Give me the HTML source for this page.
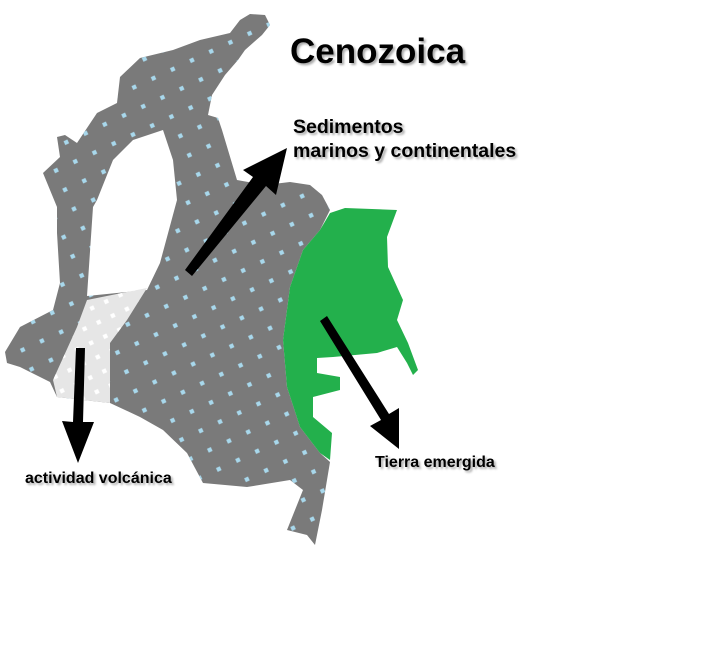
<!DOCTYPE html>
<html><head><meta charset="utf-8"><style>
html,body{margin:0;padding:0;background:#fff;}
body{width:702px;height:666px;overflow:hidden;position:relative;font-family:"Liberation Sans",Arial,sans-serif;}
.lbl{position:absolute;font-weight:bold;color:#000;white-space:nowrap;text-shadow:2px 2px 2px #aaa,-1px -1px 1px #fff;}
</style></head><body>
<svg width="702" height="666" viewBox="0 0 702 666" style="position:absolute;left:0;top:0">
<defs>
<pattern id="dots" width="30" height="30" patternUnits="userSpaceOnUse" patternTransform="rotate(20)">
<path d="M6 3 L9 6 L6 9 L3 6Z" fill="#a8d8ec"/><path d="M21 18 L24 21 L21 24 L18 21Z" fill="#a8d8ec"/>
</pattern>
<pattern id="wdots" width="22" height="22" patternUnits="userSpaceOnUse" patternTransform="rotate(20)">
<path d="M5 2 L8 5 L5 8 L2 5Z" fill="#fff"/><path d="M16 13 L19 16 L16 19 L13 16Z" fill="#fff"/>
</pattern>
</defs>
<g>
<path d="M250,14 L265,15 L270,25 L262,35 L245,50 L238,60 L225,75 L212,95 L208,115 L218,118 L222,130 L228,150 L237,180 L265,185 L290,182 L310,185 L322,195 L330,210 L320,230 L303,250 L290,287 L283,340 L287,387 L300,427 L320,453 L330,462 L327,480 L322,510 L315,545 L307,535 L287,530 L303,490 L290,480 L247,487 L203,483 L187,453 L163,430 L140,417 L110,403 L57,397 L50,382 L20,367 L7,363 L5,352 L20,327 L53,310 L60,283 L57,233 L57,207 L43,173 L60,157 L57,137 L65,135 L77,143 L97,113 L117,103 L120,77 L140,58 L173,50 L200,40 L230,33 L240,20 Z" fill="#7a7a7a"/>
<path d="M250,14 L265,15 L270,25 L262,35 L245,50 L238,60 L225,75 L212,95 L208,115 L218,118 L222,130 L228,150 L237,180 L265,185 L290,182 L310,185 L322,195 L330,210 L320,230 L303,250 L290,287 L283,340 L287,387 L300,427 L320,453 L330,462 L327,480 L322,510 L315,545 L307,535 L287,530 L303,490 L290,480 L247,487 L203,483 L187,453 L163,430 L140,417 L110,403 L57,397 L50,382 L20,367 L7,363 L5,352 L20,327 L53,310 L60,283 L57,233 L57,207 L43,173 L60,157 L57,137 L65,135 L77,143 L97,113 L117,103 L120,77 L140,58 L173,50 L200,40 L230,33 L240,20 Z" fill="url(#dots)"/>
</g>
<path d="M163,130 L173,160 L177,200 L160,263 L147,290 L87,296 L93,207 L97,200 L113,160 L133,140 Z" fill="#fff"/>
<g>
<path d="M147,288 L127,320 L110,343 L110,403 L57,397 L53,380 L77,327 L87,300 Z" fill="#e6e6e6"/>
<path d="M147,288 L127,320 L110,343 L110,403 L57,397 L53,380 L77,327 L87,300 Z" fill="url(#wdots)"/>
</g>
<path d="M330,213 L345,208 L397,210 L387,237 L388,267 L403,300 L397,320 L408,343 L418,370 L413,375 L407,363 L397,347 L377,353 L333,357 L317,358 L317,373 L340,377 L340,390 L313,397 L313,417 L332,433 L330,460 L320,453 L300,427 L287,387 L283,340 L290,287 L303,250 L320,230 Z" fill="#23b04c"/>
<g fill="#000">
<path d="M185,270 L253,177 L243,170 L287,148 L276,195 L266,186 L192,276 Z"/>
<path d="M320,321 L381,420 L370,426 L399,449 L399,408 L389,414 L327,316 Z"/>
<path d="M76,348 L73,422 L62,421 L78,463 L94,422 L83,422 L85,348 Z"/>
</g>
</svg>
<div class="lbl" style="left:290px;top:32px;font-size:35px;">Cenozoica</div>
<div class="lbl" style="left:293px;top:115px;font-size:19.5px;line-height:24px;">Sedimentos<br>marinos y continentales</div>
<div class="lbl" style="left:25px;top:470px;font-size:16px;">actividad volcánica</div>
<div class="lbl" style="left:375px;top:454px;font-size:16px;">Tierra emergida</div>
</body></html>
